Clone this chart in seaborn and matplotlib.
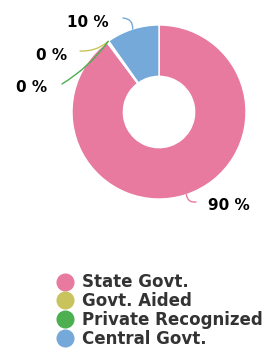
import numpy as np
import matplotlib
matplotlib.use("Agg")
import matplotlib.pyplot as plt
from matplotlib.lines import Line2D
import seaborn as sns

# data
categories = ["State Govt.", "Govt. Aided", "Private Recognized", "Central Govt."]
values = [89.8, 0.2, 0.2, 9.8]
pct_labels = ["90 %", "0 %", "0 %", "10 %"]
colors = sns.color_palette(["#e8799f", "#c9c35d", "#4caf50", "#75a9d9"])

sns.set_style("white")
plt.rcParams['font.family'] = ['DejaVu Sans']

fig = plt.figure(figsize=(2.64, 3.51), dpi=100)
# pie centre at (159,112) px, radius 87 px
ax = fig.add_axes([72 / 264, 1 - 199 / 351, 174 / 264, 174 / 351])
wedges, _ = ax.pie(values, colors=colors, startangle=90, counterclock=False,
                   wedgeprops=dict(width=0.59, edgecolor="white", linewidth=1))
ax.set_xlim(-1, 1)
ax.set_ylim(-1, 1)
ax.set_aspect("equal")
ax.axis("off")

# label layout (data units): text centre, connector start, curve bend
text_pos = [(0.805, -1.08), (-1.23, 0.655), (-1.46, 0.276), (-0.816, 1.034)]
line_start = [(0.425, -1.034), (-0.908, 0.701), (-1.115, 0.322), (-0.414, 1.08)]
rads = [-0.5, 0.2, 0.1, -0.5]
for w, lab, tp, ls, rad in zip(wedges, pct_labels, text_pos, line_start, rads):
    ang = np.deg2rad((w.theta1 + w.theta2) / 2)
    anchor = (np.cos(ang), np.sin(ang))
    ax.annotate("", xy=anchor, xytext=ls, annotation_clip=False,
                arrowprops=dict(arrowstyle="-", color=w.get_facecolor(), lw=1,
                                connectionstyle=f"arc3,rad={rad}",
                                shrinkA=0, shrinkB=0))
    ax.text(tp[0], tp[1], lab, ha="center", va="center", fontsize=11,
            fontweight="bold", color="black", clip_on=False)

handles = [Line2D([0], [0], marker="o", linestyle="", markersize=12,
                  markerfacecolor=c, markeredgecolor=c) for c in colors]
leg = fig.legend(handles, categories, loc="upper center",
                 bbox_to_anchor=(159 / 264, 1 - 265 / 351), frameon=False,
                 prop=dict(size=12, weight="bold"), labelspacing=0.05,
                 handletextpad=0.45, borderpad=0, handlelength=1.2)
for t in leg.get_texts():
    t.set_color("#333333")

fig.savefig("out.png", dpi=100)
